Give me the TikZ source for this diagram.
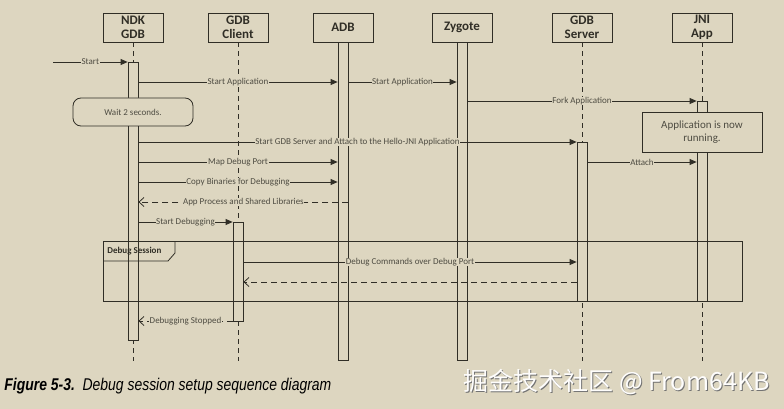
\documentclass[tikz,border=0pt]{standalone}
\usepackage{fontspec}
\setmainfont{Carlito}
\newfontfamily\capfont[FakeStretch=0.82]{Liberation Sans}
\newfontfamily\cjk{Noto Sans CJK SC}
\usetikzlibrary{arrows.meta}
\definecolor{paper}{RGB}{221,214,192}
\definecolor{ink}{RGB}{48,46,38}
\definecolor{lbl}{RGB}{78,76,66}
\begin{document}
\begin{tikzpicture}[x=1pt, y=-1pt, line width=0.8pt,
  head/.style={draw=ink, fill=paper, minimum width=60pt, minimum height=29pt, inner sep=0pt, align=center, text=ink, font=\fontsize{13}{14.5}\selectfont\bfseries},
  bar/.style={draw=ink, fill=paper, minimum width=10pt, anchor=north, inner sep=0pt},
  life/.style={draw=ink, dash pattern=on 5pt off 4pt},
  msg/.style={draw=ink, -{Triangle[length=7pt,width=6pt]}},
  ret/.style={draw=ink, dash pattern=on 6pt off 4pt, -{Straight Barb[length=5pt,width=9pt]}},
  lab/.style={fill=paper, inner sep=0.6pt, text=lbl, font=\fontsize{9}{10}\selectfont},
  note/.style={draw=ink, fill=paper, minimum width=120pt, align=center, text=lbl}]
\fill[paper] (0,0) rectangle (784,409);
\useasboundingbox (0,0) rectangle (784,409);
% lifeline heads
\node[head] (ndk) at (133,27.5) {NDK\\GDB};
\node[head] (cli) at (238,27.5) {GDB\\Client};
\node[head] (adb) at (343,27.5) {ADB};
\node[head] (zyg) at (462,27.5) {Zygote};
\node[head] (srv) at (582,27.5) {GDB\\Server};
\node[head] (app) at (702,27.5) {JNI\\App};
\coordinate (bottom) at (0,361);
\draw[life] (ndk.south) -- (ndk.south |- bottom);
\draw[life] (cli.south) -- (cli.south |- bottom);
\draw[life] (srv.south) -- (srv.south |- bottom);
\draw[life] (app.south) -- (app.south |- bottom);
% activation bars
\node[bar, minimum height=278pt] (ndkbar) at (133,62) {};
\node[bar, minimum height=99pt] (clibar) at (238,222) {};
\node[bar, minimum height=318pt] (adbbar) at (343,42) {};
\node[bar, minimum height=318pt] (zygbar) at (462,42) {};
\node[bar, minimum height=159pt] (srvbar) at (582,142) {};
\node[bar, minimum height=200pt] (appbar) at (702,101) {};
% message rows
\coordinate (r1) at (0,62);   \coordinate (r2) at (0,82);
\coordinate (r3) at (0,101);  \coordinate (r4) at (0,142);
\coordinate (r5) at (0,162);  \coordinate (r6) at (0,182);
\coordinate (r7) at (0,202);  \coordinate (r8) at (0,222);
\coordinate (r9) at (0,262);  \coordinate (r10) at (0,282);
\coordinate (r11) at (0,321);
\coordinate (entry) at (53,62);
\draw[msg] (entry) -- node[lab] {Start} (ndkbar.west |- r1);
\draw[msg] (ndkbar.east |- r2) -- node[lab] {Start Application} (adbbar.west |- r2);
\draw[msg] (adbbar.east |- r2) -- node[lab] {Start Application} (zygbar.west |- r2);
\draw[msg] (zygbar.east |- r3) -- node[lab] {Fork Application} (appbar.west |- r3);
\node[note, rounded corners=8pt, minimum height=28pt, font=\fontsize{9}{11}\selectfont] (wait) at (133,112) {Wait 2 seconds.};
\node[note, minimum height=40pt, font=\fontsize{11}{13}\selectfont] (running) at (702,132) {Application is now\\running.};
\draw[msg] (ndkbar.east |- r4) -- node[lab] {Start GDB Server and Attach to the Hello-JNI Application} (srvbar.west |- r4);
\draw[msg] (srvbar.east |- r5) -- node[lab] {Attach} (appbar.west |- r5);
\draw[msg] (ndkbar.east |- r5) -- node[lab] {Map Debug Port} (adbbar.west |- r5);
\draw[msg] (ndkbar.east |- r6) -- node[lab] {Copy Binaries for Debugging} (adbbar.west |- r6);
\draw[ret] (adbbar.east |- r7) -- node[lab] {App Process and Shared Libraries} (ndkbar.east |- r7);
\draw[msg] (ndkbar.east |- r8) -- node[lab] {Start Debugging} (clibar.west |- r8);
% debug session frame
\draw[ink] (103,241) rectangle (742,301);
\draw[ink] (103,261) -- (168,261) -- (175,253) -- (175,241);
\node[anchor=west, inner sep=0pt, text=ink, font=\fontsize{9}{10}\selectfont\bfseries] (frame) at (107,251) {Debug Session};
\draw[msg] (clibar.east |- r9) -- node[lab] {Debug Commands over Debug Port} (srvbar.west |- r9);
\draw[ret] (srvbar.west |- r10) -- (clibar.east |- r10);
\draw[ret] (clibar.west |- r11) -- node[lab] {Debugging Stopped} (ndkbar.east |- r11);
% caption and watermark
\node[anchor=west, inner sep=0pt, text=black, font=\capfont\itshape\fontsize{17}{20}\selectfont] (caption) at (4,386) {\textbf{Figure 5-3.}\ \ Debug session setup sequence diagram};
\node[anchor=west, inner sep=0pt, text=black!55, font=\cjk\fontsize{25}{28}\selectfont] (markshadow) at (464,383) {掘金技术社区 @ From64KB};
\node[anchor=west, inner sep=0pt, text=white!96!paper, font=\cjk\fontsize{25}{28}\selectfont] (mark) at (463,382) {掘金技术社区 @ From64KB};
\end{tikzpicture}
\end{document}
